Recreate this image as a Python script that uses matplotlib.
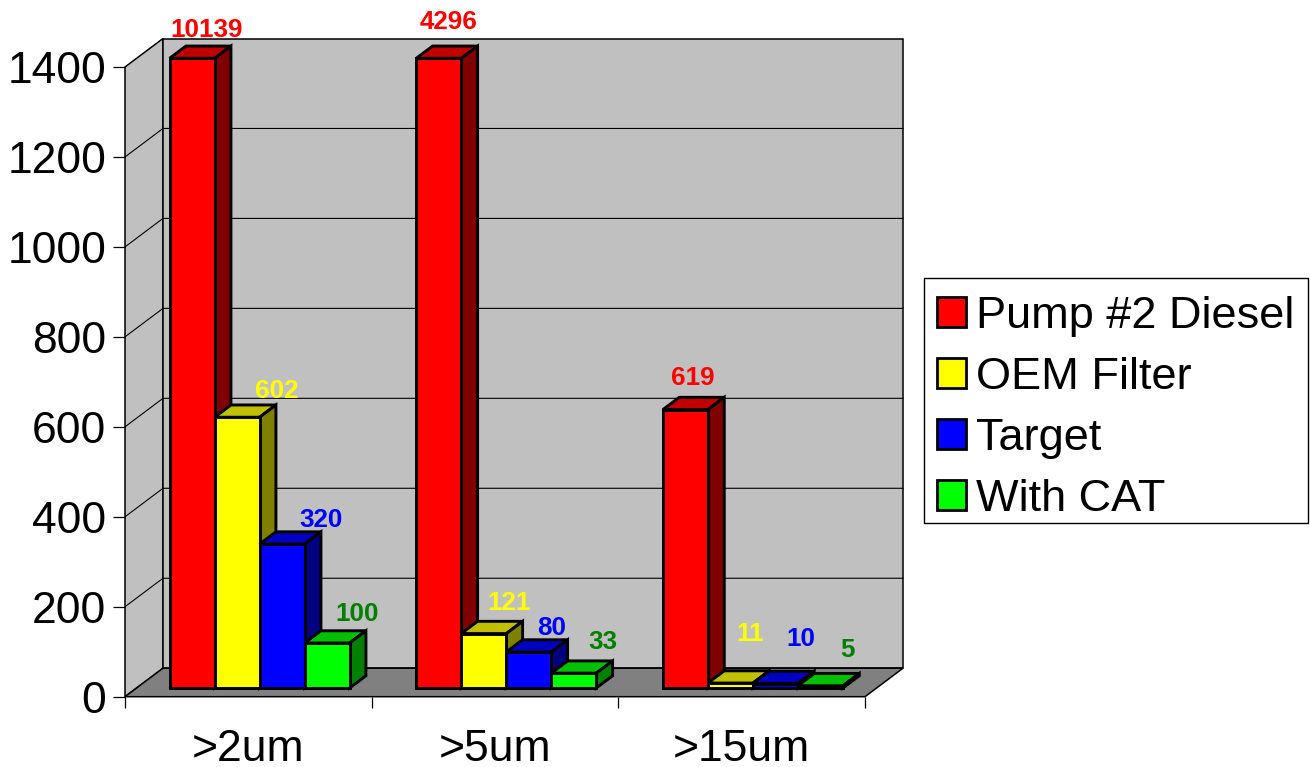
import numpy as np
import matplotlib
matplotlib.use("Agg")
import matplotlib.pyplot as plt
from matplotlib.patches import Polygon, Patch, Rectangle

plt.rcParams['font.family'] = ['Liberation Sans', 'DejaVu Sans']

categories = [">2um", ">5um", ">15um"]
series_names = ["Pump #2 Diesel", "OEM Filter", "Target", "With CAT"]
pump_diesel = [10139, 4296, 619]
oem_filter = [602, 121, 11]
target = [320, 80, 10]
with_cat = [100, 33, 5]
y_ticks = [0, 200, 400, 600, 800, 1000, 1200, 1400]

# front / side / top colours per series
front_cols = ["#FF0000", "#FFFF00", "#0000FF", "#00FF00"]
side_cols = ["#800000", "#808000", "#000080", "#008000"]
top_cols = ["#C00000", "#C0C000", "#0000C0", "#00C000"]
label_cols = ["#FF0000", "#FFFF00", "#0000FF", "#008000"]

# hand placed value labels in the original, pixels from the front top centre of each bar
label_dx = [[15, 10, 7], [40, 25, 20], [39, 23, 25], [30, 29, 27]]
label_dy = [[28, 36, 32], [26, 31, 49], [24, 24, 45], [29, 31, 36]]

W, H = 1310, 767
fig = plt.figure(figsize=(W / 100, H / 100), dpi=100, facecolor="white")
ax_left, ax_right, ax_top, ax_bottom = 125, 865, 67, 696.7
ax = fig.add_axes([ax_left / W, 1 - ax_bottom / H, (ax_right - ax_left) / W, (ax_bottom - ax_top) / H])
ax.set_xlim(0, 3)
ax.set_ylim(0, 1400)
ax.patch.set_visible(False)
for s in ax.spines.values():
    s.set_visible(False)

# how far the back wall sits behind the front plane, in data units
xpx = 3 / (ax_right - ax_left)
ypx = 1400 / (ax_bottom - ax_top)
depth_x = 38 * xpx
depth_y = 28.5 * ypx


def poly(pts, col, lw, z, ec="black"):
    ax.add_patch(Polygon(pts, closed=True, facecolor=col, edgecolor=ec, linewidth=lw,
                         joinstyle="miter", clip_on=False, zorder=z))


# walls and floor
poly([(0, 0), (depth_x, depth_y), (depth_x, 1400 + depth_y), (0, 1400)], "#C0C0C0", 1.1, 1)
poly([(depth_x, depth_y), (3 + depth_x, depth_y), (3 + depth_x, 1400 + depth_y), (depth_x, 1400 + depth_y)],
     "#C0C0C0", 1.1, 1)
poly([(0, 0), (3, 0), (3 + depth_x, depth_y), (depth_x, depth_y)], "#808080", 1.1, 1)

# gridlines run along the side wall and over the back wall
for t in y_ticks[1:-1]:
    ax.plot([0, depth_x, 3 + depth_x], [t, t + depth_y, t + depth_y], color="black", lw=0.8,
            clip_on=False, zorder=2)

# bars
all_series = [pump_diesel, oem_filter, target, with_cat]
front_x = 0.305 * depth_x
front_y = 0.305 * depth_y
bar_dx = 0.43 * depth_x
bar_dy = 0.43 * depth_y
bar_w = 45 * xpx
start = 33.0 * xpx
z = 3
for c in range(len(categories)):
    for i, vals in enumerate(all_series):
        v = min(vals[c], 1400)
        x0 = c + start + i * bar_w + front_x
        x1 = x0 + bar_w
        y0 = front_y
        y1 = v + front_y
        poly([(x0, y1), (x1, y1), (x1 + bar_dx, y1 + bar_dy), (x0 + bar_dx, y1 + bar_dy)], top_cols[i], 2.1, z)
        poly([(x1, y0), (x1 + bar_dx, y0 + bar_dy), (x1 + bar_dx, y1 + bar_dy), (x1, y1)], side_cols[i], 2.1, z)
        poly([(x0, y0), (x1, y0), (x1, y1), (x0, y1)], front_cols[i], 2.1, z)
        z += 1
        ax.annotate(str(vals[c]), xy=((x0 + x1) / 2, y1), xytext=(label_dx[i][c], label_dy[i][c]),
                    textcoords="offset pixels", ha="center", va="center", fontsize=18.7, fontweight="bold",
                    color=label_cols[i], annotation_clip=False, zorder=50)

# axes ticks
ax.set_yticks(y_ticks)
ax.tick_params(axis="y", length=8.5, width=0.9, pad=5, labelsize=32)
ax.set_xticks([0, 1, 2, 3])
ax.set_xticklabels([])
ax.tick_params(axis="x", which="major", length=8, width=0.9)
ax.set_xticks(np.arange(len(categories)) + 0.5, minor=True)
ax.set_xticklabels(categories, minor=True)
ax.tick_params(axis="x", which="minor", length=0, pad=23.5, labelsize=32)

# legend box is its own rectangle, the rows inside do not centre in it
fig.add_artist(Rectangle((924 / W, 1 - 523 / H), 384 / W, 245 / H, transform=fig.transFigure,
                         facecolor="white", edgecolor="black", linewidth=1.0))
handles = [Patch(facecolor=front_cols[i], edgecolor="black", linewidth=2.0) for i in range(4)]
leg = fig.legend(handles, series_names, loc="upper left", bbox_to_anchor=(920 / W, 1 - 279 / H),
                 borderaxespad=0, fontsize=32.5, frameon=False, handlelength=0.65, handleheight=0.65,
                 handletextpad=0.2, labelspacing=0.44, borderpad=0.38)

fig.savefig("out.png", dpi=100, facecolor="white")
